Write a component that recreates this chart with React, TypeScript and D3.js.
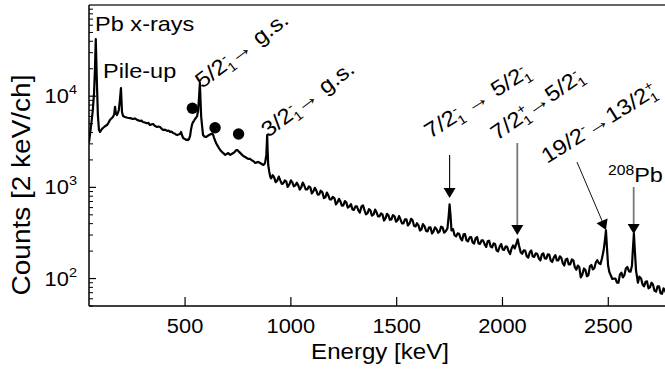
import React from 'react';
import * as d3 from 'd3';

// ---- Spectrum data (energy in keV, counts per 2 keV channel) ----
const lowEnergyKeV: number[] = [
  46, 55, 64, 70, 74, 78, 83, 88, 93, 98, 105, 112, 120, 131, 138, 145, 152, 159, 165, 169,
  173, 178, 183, 187, 192, 197, 202, 207, 216, 228, 240, 254, 263, 273, 287, 294, 301, 310, 320, 327,
  334, 341, 349, 358, 368, 375, 382, 389, 396, 405, 415, 422, 429, 436, 443, 450, 456, 462, 469, 476,
  481, 486, 491, 498, 505, 510, 514, 519, 524, 528, 533, 538, 543, 547, 552, 557, 562, 566, 570, 573,
  576, 581, 585, 592, 600, 609, 618, 623, 628, 633, 637, 642, 647, 656, 666, 678, 690, 697, 704, 713,
  720, 728, 735, 742, 748, 751, 758, 765, 775, 784, 791, 798, 808, 815, 822, 832, 839, 846, 855, 862,
  870, 876, 879, 884, 886, 888, 890, 893, 898, 903,
];
const lowCounts: number[] = [
  3100, 4590, 7000, 11000, 19400, 42400, 15000, 6200, 4300, 4050, 4300, 4480, 4650, 4830, 5100, 5480, 5700, 5920, 6300, 7620,
  6550, 6220, 6600, 7060, 9080, 12300, 6710, 6070, 5920, 5800, 5750, 5620, 5700, 5500, 5350, 5400, 5210, 5150, 5050, 5100,
  4830, 4900, 4950, 4700, 4590, 4650, 4590, 4400, 4260, 4300, 4160, 4200, 4060, 4100, 3950, 3900, 3800, 3750, 3800, 3850,
  4060, 3700, 3480, 3400, 3310, 3350, 3300, 3400, 3700, 4300, 4900, 5210, 5400, 5620, 5800, 6070, 7060, 9700, 13960, 9000,
  6000, 4590, 3750, 3600, 3570, 3700, 3800, 3850, 3900, 3750, 3500, 3250, 3050, 2800, 2570, 2400, 2270, 2330, 2380, 2270,
  2320, 2380, 2450, 2570, 2560, 2510, 2420, 2330, 2210, 2150, 2100, 2050, 2050, 1980, 1950, 1850, 1880, 1900, 1850, 1800,
  1760, 1820, 1900, 2270, 2900, 3750, 2600, 1760, 1476, 1300,
];
const highEnergyKeV: number[] = [
  907, 914, 921, 928, 936, 943, 950, 957, 964, 971, 978, 985, 993, 1000, 1007, 1014, 1021, 1028, 1035, 1042,
  1049, 1056, 1063, 1070, 1078, 1085, 1092, 1099, 1106, 1113, 1120, 1127, 1134, 1141, 1149, 1156, 1163, 1170, 1177, 1184,
  1191, 1198, 1206, 1213, 1220, 1227, 1234, 1241, 1248, 1255, 1262, 1269, 1277, 1284, 1291, 1298, 1305, 1312, 1319, 1326,
  1334, 1341, 1348, 1355, 1362, 1369, 1376, 1383, 1391, 1398, 1405, 1412, 1419, 1426, 1433, 1440, 1447, 1454, 1461, 1468,
  1475, 1482, 1490, 1497, 1504, 1511, 1518, 1525, 1532, 1539, 1546, 1553, 1561, 1568, 1575, 1582, 1589, 1596, 1603, 1610,
  1617, 1624, 1632, 1639, 1646, 1653, 1660, 1667, 1674, 1681, 1689, 1696, 1703, 1710, 1717, 1724, 1731, 1740, 1746, 1750,
  1754, 1759, 1766, 1774, 1781, 1788, 1795, 1802, 1809, 1816, 1823, 1830, 1837, 1845, 1852, 1859, 1866, 1873, 1880, 1887,
  1894, 1901, 1908, 1916, 1923, 1930, 1937, 1944, 1951, 1958, 1965, 1972, 1979, 1987, 1994, 2001, 2008, 2015, 2022, 2029,
  2036, 2043, 2050, 2058, 2066, 2072, 2078, 2086, 2093, 2100, 2107, 2115, 2122, 2129, 2136, 2143, 2150, 2157, 2164, 2172,
  2179, 2186, 2193, 2200, 2207, 2214, 2221, 2228, 2235, 2243, 2250, 2257, 2264, 2271, 2278, 2285, 2292, 2299, 2306, 2313,
  2320, 2328, 2335, 2342, 2349, 2356, 2363, 2370, 2377, 2385, 2392, 2399, 2406, 2413, 2420, 2427, 2434, 2441, 2448, 2456,
  2463, 2470, 2478, 2484, 2489, 2494, 2499, 2505, 2512, 2519, 2527, 2534, 2541, 2548, 2555, 2562, 2569, 2576, 2583, 2590,
  2598, 2605, 2612, 2616, 2621, 2626, 2631, 2640, 2647, 2655, 2662, 2669, 2676, 2683, 2690, 2697, 2704, 2711, 2718, 2726,
  2733, 2740, 2747, 2754, 2761, 2768, 2775,
];
const highCounts: number[] = [
  1255, 1360, 1287, 1141, 1193, 1312, 1193, 1092, 1106, 1192, 1164, 1010, 1079, 1196, 1135, 1028, 1052, 1126, 1052, 944,
  1000, 1129, 1052, 952, 951, 1025, 1000, 857, 904, 989, 927, 830, 838, 920, 881, 763, 777, 877, 817, 739,
  739, 786, 758, 650, 685, 749, 702, 629, 635, 706, 685, 600, 619, 656, 573, 566, 619, 618, 559, 530,
  619, 636, 559, 506, 518, 576, 559, 489, 505, 571, 532, 481, 481, 518, 505, 433, 457, 513, 493, 441,
  446, 496, 481, 421, 435, 485, 446, 403, 403, 446, 446, 382, 403, 452, 435, 380, 373, 404, 383, 336,
  346, 396, 373, 333, 329, 364, 364, 312, 329, 365, 346, 318, 329, 371, 364, 319, 329, 355, 493, 651,
  505, 337, 349, 297, 290, 313, 310, 276, 262, 305, 307, 262, 256, 283, 285, 249, 242, 276, 286, 243,
  240, 262, 262, 237, 222, 256, 260, 225, 220, 243, 239, 204, 198, 225, 239, 209, 206, 225, 223, 199,
  186, 214, 231, 214, 243, 269, 231, 194, 187, 204, 203, 175, 170, 194, 203, 175, 173, 189, 187, 166,
  158, 184, 189, 166, 165, 184, 183, 158, 152, 171, 181, 158, 158, 175, 169, 147, 139, 162, 165, 143,
  143, 162, 158, 133, 125, 139, 133, 103, 110, 129, 124, 106, 109, 136, 141, 126, 130, 150, 159, 147,
  144, 166, 204, 262, 337, 214, 139, 118, 108, 99, 100, 100, 90, 90, 111, 116, 103, 109, 129, 134,
  120, 119, 139, 204, 313, 194, 123, 90, 105, 100, 86, 82, 92, 93, 78, 80, 90, 86, 74, 72,
  82, 82, 69, 68, 78, 74, 68,
];
const energyKeV: number[] = lowEnergyKeV.concat(highEnergyKeV);
const counts: number[] = lowCounts.concat(highCounts);

// axis ticks
const xTickValues: number[] = [500, 1000, 1500, 2000, 2500];
const yDecadeExponents: number[] = [2, 3, 4];

// filled circle markers (energy, counts)
const dotEnergy: number[] = [534.5, 641.7, 752.8];
const dotCounts: number[] = [7367, 4514, 3850];

// arrows: start (energy, counts) -> tip (energy, counts)
const arrowFromE: number[] = [1750, 2070, 2352, 2620];
const arrowFromC: number[] = [2265, 3068, 1898, 1010];
const arrowToE: number[] = [1750, 2070, 2489, 2620];
const arrowToC: number[] = [765, 300, 341, 308];
const arrowColor: string[] = ['#111', '#777', '#111', '#777'];
const arrowWidth: number[] = [1.2, 1.8, 1.0, 1.8];

const FONT = "'Liberation Sans', Arial, Helvetica, sans-serif";
const SX = 1.12;

const W = 665, H = 372;
const L = 89, R = 665, T = 5, B = 306;

function Stretch({ x, y, rot = 0, children }: { x: number; y: number; rot?: number; children: React.ReactNode }) {
  return <g transform={`translate(${x},${y}) rotate(${rot}) scale(${SX},1)`}>{children}</g>;
}

export default function App() {
  const x = d3.scaleLinear().domain([46, 2768]).range([L, R]);
  const y = d3.scaleLog().domain([50, 1e5]).range([B, T]);

  const line = d3
    .line<number>()
    .x((_, i) => x(energyKeV[i]))
    .y((_, i) => y(counts[i]));
  const path = line(counts) || '';

  const minor: number[] = [];
  for (let d = 1; d <= 4; d++) {
    for (let m = 2; m <= 9; m++) {
      const v = m * Math.pow(10, d);
      if (v >= 50 && v <= 1e5) minor.push(v);
    }
  }

  const lab = 21.5;
  const sub = 13;

  return (
    <svg width={W} height={H} style={{ position: 'absolute', left: 0, top: 0, background: '#fff' }} fontFamily={FONT}>
      <defs>
        <clipPath id="plot">
          <rect x={L} y={T} width={R - L} height={B - T} />
        </clipPath>
      </defs>
      <rect x={0} y={0} width={W} height={H} fill="#fff" />

      {/* spectrum */}
      <path d={path} fill="none" stroke="#000" strokeWidth={2.2} strokeLinejoin="round" clipPath="url(#plot)" />

      {/* frame */}
      <line x1={L} x2={R} y1={T} y2={T} stroke="#333" strokeWidth={1.5} />
      <line x1={L} x2={L} y1={T} y2={B} stroke="#000" strokeWidth={1.5} />
      <line x1={L} x2={R} y1={B} y2={B} stroke="#000" strokeWidth={1.5} />

      {/* x ticks */}
      {xTickValues.map((v) => (
        <g key={v}>
          <line x1={x(v)} x2={x(v)} y1={B} y2={B - 9} stroke="#000" strokeWidth={1.2} />
          <Stretch x={x(v)} y={333}>
            <text textAnchor="middle" fontSize={19.5}>{v}</text>
          </Stretch>
        </g>
      ))}

      {/* y ticks */}
      {minor.map((v) => (
        <line key={v} x1={L} x2={L + 4} y1={y(v)} y2={y(v)} stroke="#000" strokeWidth={1} />
      ))}
      {yDecadeExponents.map((e) => {
        const v = Math.pow(10, e);
        return (
          <g key={e}>
            <line x1={L} x2={L + 7} y1={y(v)} y2={y(v)} stroke="#000" strokeWidth={1.2} />
            <Stretch x={77} y={y(v) + 7}>
              <text textAnchor="end" fontSize={19.5}>
                10<tspan fontSize={13} dy={-9}>{e}</tspan>
              </text>
            </Stretch>
          </g>
        );
      })}

      {/* axis titles */}
      <Stretch x={380} y={359}>
        <text textAnchor="middle" fontSize={21.5}>Energy [keV]</text>
      </Stretch>
      <Stretch x={30} y={185} rot={-90}>
        <text textAnchor="middle" fontSize={25}>Counts [2 keV/ch]</text>
      </Stretch>

      {/* dots */}
      {dotEnergy.map((e, i) => (
        <circle key={e} cx={x(e)} cy={y(dotCounts[i])} r={5.7} fill="#000" />
      ))}

      {/* arrows */}
      {arrowFromE.map((e, i) => {
        const x1 = x(e), y1 = y(arrowFromC[i]);
        const x2 = x(arrowToE[i]), y2 = y(arrowToC[i]);
        const dx = x2 - x1, dy = y2 - y1;
        const len = Math.hypot(dx, dy);
        const ux = dx / len, uy = dy / len;
        const hl = 10, hw = 6;
        const bx = x2 - ux * hl, by = y2 - uy * hl;
        const pts = `${x2},${y2} ${bx - uy * hw},${by + ux * hw} ${bx + uy * hw},${by - ux * hw}`;
        return (
          <g key={i}>
            <line x1={x1} y1={y1} x2={bx} y2={by} stroke={arrowColor[i]} strokeWidth={arrowWidth[i]} />
            <polygon points={pts} fill="#000" />
          </g>
        );
      })}

      {/* labels */}
      <Stretch x={x(74.8)} y={y(51900)}>
        <text fontSize={21}>Pb x-rays</text>
      </Stretch>
      <Stretch x={x(112.6)} y={y(15830)}>
        <text fontSize={21}>Pile-up</text>
      </Stretch>
      <Stretch x={x(580)} y={y(12000)} rot={-37}>
        <text fontSize={lab}>
          5/2<tspan fontSize={sub} dy={5}>1</tspan>
          <tspan fontSize={sub} dx={-7} dy={-13}>-</tspan>
          <tspan dx={2} dy={8}>→ g.s.</tspan>
        </text>
      </Stretch>
      <Stretch x={x(892)} y={y(3480)} rot={-37}>
        <text fontSize={lab}>
          3/2<tspan fontSize={sub} dy={5}>1</tspan>
          <tspan fontSize={sub} dx={-7} dy={-13}>-</tspan>
          <tspan dx={2} dy={8}>→ g.s.</tspan>
        </text>
      </Stretch>
      <Stretch x={x(1657.6)} y={y(3394)} rot={-32}>
        <text fontSize={lab}>
          7/2<tspan fontSize={sub} dy={5}>1</tspan>
          <tspan fontSize={sub} dx={-7} dy={-13}>-</tspan>
          <tspan dx={2} dy={8}> → 5/2</tspan>
          <tspan fontSize={sub} dy={5}>1</tspan>
          <tspan fontSize={sub} dx={-7} dy={-13}>-</tspan>
        </text>
      </Stretch>
      <Stretch x={x(1974)} y={y(3227)} rot={-35}>
        <text fontSize={lab}>
          7/2<tspan fontSize={sub} dy={5}>1</tspan>
          <tspan fontSize={sub} dx={-7} dy={-13}>+</tspan>
          <tspan dx={0} dy={8}>→5/2</tspan>
          <tspan fontSize={sub} dy={5}>1</tspan>
          <tspan fontSize={sub} dx={-7} dy={-13}>-</tspan>
        </text>
      </Stretch>
      <Stretch x={x(2210)} y={y(1805)} rot={-32}>
        <text fontSize={lab}>
          19/2<tspan fontSize={sub} dy={-8}>-</tspan>
          <tspan dy={8}>→13/2</tspan>
          <tspan fontSize={sub} dy={5}>1</tspan>
          <tspan fontSize={sub} dx={-7} dy={-13}>+</tspan>
        </text>
      </Stretch>
      <Stretch x={x(2498.6)} y={y(1146)}>
        <text fontSize={21}>
          <tspan fontSize={14} dy={-7}>208</tspan>
          <tspan dy={7}>Pb</tspan>
        </text>
      </Stretch>
    </svg>
  );
}
